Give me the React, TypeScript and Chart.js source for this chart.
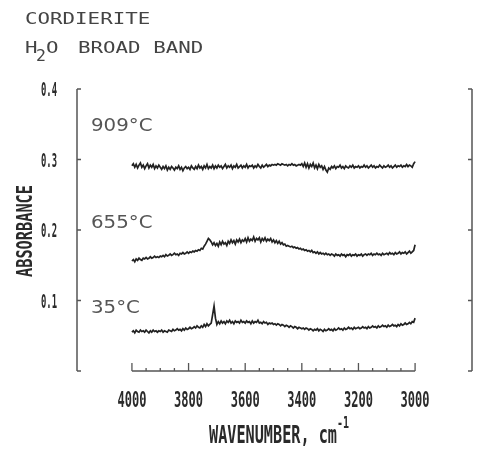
import React, { useEffect, useRef } from "react";
import { Chart, registerables } from "chart.js";

Chart.register(...registerables);

// Sampling grid of wavenumbers (cm^-1), 4000 -> 3000 every 5
const WAVENUMBERS: number[] = Array.from({ length: 201 }, (_, i) => 4000 - i * 5);

const ABS_909: number[] = [
  0.291, 0.294, 0.289, 0.293, 0.288, 0.292, 0.295, 0.289, 0.292, 0.287, 0.291, 0.294, 0.288, 0.292, 0.289, 0.293, 0.287, 0.291, 0.288, 0.292,
  0.289, 0.286, 0.290, 0.287, 0.291, 0.285, 0.289, 0.286, 0.290, 0.288, 0.285, 0.289, 0.287, 0.291, 0.286, 0.289, 0.284, 0.288, 0.290, 0.287,
  0.289, 0.286, 0.291, 0.288, 0.286, 0.290, 0.287, 0.292, 0.288, 0.290, 0.286, 0.291, 0.288, 0.293, 0.287, 0.290, 0.288, 0.292, 0.287, 0.291,
  0.288, 0.292, 0.289, 0.291, 0.287, 0.290, 0.293, 0.288, 0.291, 0.289, 0.292, 0.287, 0.291, 0.289, 0.293, 0.288, 0.290, 0.292, 0.288, 0.291,
  0.289, 0.293, 0.288, 0.291, 0.290, 0.292, 0.288, 0.291, 0.289, 0.293, 0.290, 0.288, 0.292, 0.289, 0.291, 0.293, 0.290, 0.292, 0.291, 0.293,
  0.292, 0.293, 0.292, 0.294, 0.293, 0.292, 0.294, 0.293, 0.292, 0.293, 0.291, 0.293, 0.292, 0.294, 0.292, 0.293, 0.291, 0.292, 0.293, 0.292,
  0.294, 0.290, 0.295, 0.289, 0.294, 0.288, 0.293, 0.290, 0.295, 0.288, 0.292, 0.287, 0.293, 0.289, 0.291, 0.286, 0.290, 0.285, 0.282, 0.288,
  0.286, 0.290, 0.288, 0.291, 0.287, 0.290, 0.289, 0.292, 0.288, 0.290, 0.287, 0.291, 0.289, 0.288, 0.291, 0.289, 0.292, 0.288, 0.290, 0.289,
  0.291, 0.288, 0.290, 0.289, 0.292, 0.289, 0.291, 0.288, 0.290, 0.292, 0.289, 0.291, 0.288, 0.290, 0.289, 0.292, 0.290, 0.288, 0.291, 0.289,
  0.290, 0.292, 0.289, 0.291, 0.288, 0.290, 0.292, 0.289, 0.291, 0.290, 0.292, 0.289, 0.291, 0.290, 0.293, 0.290, 0.292, 0.291, 0.289, 0.294,
  0.297,
];

const ABS_655: number[] = [
  0.156, 0.158, 0.155, 0.159, 0.157, 0.160, 0.158, 0.157, 0.160, 0.159, 0.161, 0.159, 0.160, 0.162, 0.160, 0.161, 0.163, 0.161, 0.162, 0.161,
  0.163, 0.162, 0.164, 0.162, 0.165, 0.163, 0.164, 0.166, 0.164, 0.165, 0.167, 0.165, 0.166, 0.164, 0.167, 0.166, 0.168, 0.166, 0.167, 0.169,
  0.167, 0.169, 0.168, 0.170, 0.169, 0.171, 0.170, 0.172, 0.171, 0.174, 0.173, 0.177, 0.180, 0.184, 0.188, 0.186, 0.183, 0.179, 0.182, 0.178,
  0.181, 0.177, 0.183, 0.179, 0.184, 0.180, 0.182, 0.178, 0.184, 0.181, 0.186, 0.182, 0.185, 0.180, 0.186, 0.183, 0.187, 0.182, 0.186, 0.184,
  0.188, 0.183, 0.189, 0.184, 0.187, 0.185, 0.190, 0.184, 0.188, 0.186, 0.189, 0.183, 0.188, 0.185, 0.189, 0.184, 0.187, 0.185, 0.188, 0.183,
  0.186, 0.182, 0.185, 0.181, 0.184, 0.180, 0.182, 0.179, 0.180, 0.177, 0.178, 0.177, 0.176, 0.177, 0.175, 0.176, 0.174, 0.175, 0.173, 0.174,
  0.172, 0.173, 0.171, 0.172, 0.170, 0.171, 0.169, 0.171, 0.168, 0.169, 0.167, 0.169, 0.166, 0.168, 0.166, 0.167, 0.165, 0.167, 0.165, 0.166,
  0.164, 0.166, 0.165, 0.163, 0.166, 0.164, 0.165, 0.163, 0.166, 0.164, 0.165, 0.162, 0.165, 0.164, 0.166, 0.163, 0.165, 0.164, 0.166, 0.163,
  0.165, 0.164, 0.166, 0.163, 0.165, 0.166, 0.164, 0.166, 0.165, 0.167, 0.164, 0.166, 0.165, 0.167, 0.165, 0.166, 0.164, 0.167, 0.165, 0.166,
  0.167, 0.165, 0.168, 0.166, 0.167, 0.165, 0.168, 0.166, 0.167, 0.169, 0.166, 0.168, 0.167, 0.169, 0.166, 0.168, 0.170, 0.167, 0.169, 0.171,
  0.179,
];

const ABS_35: number[] = [
  0.055, 0.057, 0.054, 0.058, 0.056, 0.055, 0.058, 0.056, 0.057, 0.055, 0.058, 0.056, 0.054, 0.057, 0.055, 0.058, 0.056, 0.057, 0.055, 0.057,
  0.056, 0.058, 0.055, 0.057, 0.056, 0.055, 0.058, 0.057, 0.056, 0.059, 0.057, 0.058, 0.060, 0.058, 0.059, 0.057, 0.060, 0.058, 0.061, 0.059,
  0.060, 0.062, 0.060, 0.061, 0.063, 0.061, 0.064, 0.062, 0.061, 0.064, 0.062, 0.066, 0.063, 0.067, 0.064, 0.066, 0.068, 0.080, 0.092, 0.075,
  0.066, 0.070, 0.067, 0.071, 0.068, 0.070, 0.067, 0.071, 0.069, 0.072, 0.068, 0.070, 0.067, 0.071, 0.069, 0.070, 0.068, 0.072, 0.069, 0.070,
  0.068, 0.071, 0.069, 0.070, 0.067, 0.071, 0.068, 0.070, 0.069, 0.072, 0.068, 0.069, 0.067, 0.070, 0.068, 0.069, 0.066, 0.068, 0.067, 0.068,
  0.066, 0.067, 0.065, 0.067, 0.066, 0.064, 0.066, 0.065, 0.063, 0.065, 0.064, 0.062, 0.064, 0.063, 0.061, 0.063, 0.062, 0.060, 0.062, 0.061,
  0.060, 0.061, 0.059, 0.061, 0.060, 0.058, 0.060, 0.059, 0.057, 0.059, 0.058, 0.060, 0.057, 0.059, 0.058, 0.056, 0.059, 0.057, 0.058, 0.060,
  0.058, 0.059, 0.057, 0.060, 0.058, 0.059, 0.061, 0.059, 0.060, 0.058, 0.061, 0.059, 0.060, 0.062, 0.060, 0.061, 0.059, 0.062, 0.060, 0.061,
  0.062, 0.060, 0.061, 0.063, 0.061, 0.062, 0.060, 0.063, 0.061, 0.062, 0.064, 0.062, 0.063, 0.061, 0.064, 0.062, 0.063, 0.065, 0.063, 0.064,
  0.062, 0.065, 0.063, 0.064, 0.066, 0.064, 0.065, 0.063, 0.066, 0.064, 0.067, 0.065, 0.066, 0.068, 0.066, 0.067, 0.069, 0.067, 0.070, 0.069,
  0.075,
];

const SERIES_LABELS = ["909°C", "655°C", "35°C"];
const LABEL_ANCHORS = [0.3404, 0.2028, 0.0823]; // absorbance at label baseline

const Y_TICKS = [0.4, 0.3, 0.2, 0.1];
const Y_TICK_LABELS = ["0.4", "0.3", "0.2", "0.1"];
const X_TICKS = [4000, 3800, 3600, 3400, 3200, 3000];
const X_TICK_LABELS = ["4000", "3800", "3600", "3400", "3200", "3000"];

const TITLE_1 = "CORDIERITE";
const X_TITLE = "WAVENUMBER, cm";
const Y_TITLE = "ABSORBANCE";

function textScaled(
  ctx: CanvasRenderingContext2D,
  text: string,
  x: number,
  y: number,
  font: string,
  opts: { sx?: number; width?: number; align?: "left" | "center" | "right"; color?: string }
) {
  ctx.save();
  ctx.font = font;
  ctx.fillStyle = opts.color || "#333";
  ctx.textAlign = "left";
  ctx.textBaseline = "alphabetic";
  const m = ctx.measureText(text).width;
  const sx = opts.width ? opts.width / m : opts.sx || 1;
  const w = m * sx;
  const x0 = opts.align === "center" ? x - w / 2 : opts.align === "right" ? x - w : x;
  ctx.translate(x0, y);
  ctx.scale(sx, 1);
  ctx.fillText(text, 0, 0);
  ctx.restore();
}

const decorPlugin = {
  id: "decor",
  beforeDraw(chart: any) {
    const ctx = chart.ctx as CanvasRenderingContext2D;
    ctx.save();
    ctx.fillStyle = "#ffffff";
    ctx.fillRect(0, 0, chart.width, chart.height);
    ctx.restore();
  },
  afterDraw(chart: any) {
    const ctx = chart.ctx as CanvasRenderingContext2D;
    const xs = chart.scales.x;
    const ys = chart.scales.y;
    const { left, right } = chart.chartArea;
    const yTop = ys.getPixelForValue(0.4);
    const yBot = ys.getPixelForValue(0);
    const axisColor = "#555";

    ctx.save();
    ctx.strokeStyle = axisColor;
    ctx.lineWidth = 1.5;
    ctx.lineCap = "butt";
    ctx.beginPath();
    ctx.moveTo(left, yTop);
    ctx.lineTo(left, yBot);
    ctx.stroke();
    ctx.beginPath();
    ctx.moveTo(right, yTop);
    ctx.lineTo(right, yBot);
    ctx.stroke();
    ctx.lineWidth = 1.3;
    [0.4, 0.3, 0.2, 0.1, 0].forEach((v) => {
      const py = ys.getPixelForValue(v);
      ctx.beginPath();
      ctx.moveTo(left, py);
      ctx.lineTo(left + 4, py);
      ctx.moveTo(right, py);
      ctx.lineTo(right - 4, py);
      ctx.stroke();
    });
    const x0 = xs.getPixelForValue(4000);
    const x1 = xs.getPixelForValue(3000);
    ctx.lineWidth = 1.5;
    ctx.beginPath();
    ctx.moveTo(x0, yBot);
    ctx.lineTo(x1, yBot);
    ctx.stroke();
    ctx.lineWidth = 1.3;
    for (let w = 4000; w >= 3000; w -= 50) {
      const px = xs.getPixelForValue(w);
      const major = w % 200 === 0;
      ctx.beginPath();
      ctx.moveTo(px, yBot);
      ctx.lineTo(px, yBot - (major ? 8 : 3));
      ctx.stroke();
    }
    ctx.restore();

    Y_TICKS.forEach((v, i) => {
      const py = ys.getPixelForValue(v);
      textScaled(ctx, Y_TICK_LABELS[i], 57, py + 7, "bold 20px 'DejaVu Sans Mono'", {
        width: 16,
        align: "right",
        color: "#2a2a2a",
      });
    });
    X_TICKS.forEach((v, i) => {
      const px = xs.getPixelForValue(v);
      textScaled(ctx, X_TICK_LABELS[i], px, 407, "bold 21px 'DejaVu Sans Mono'", {
        width: 29,
        align: "center",
        color: "#2a2a2a",
      });
    });
    textScaled(ctx, X_TITLE, 209, 443, "bold 24px 'DejaVu Sans Mono'", { width: 128, color: "#2a2a2a" });
    textScaled(ctx, "-1", 337, 428, "bold 15px 'DejaVu Sans Mono'", { width: 12, color: "#2a2a2a" });
    ctx.save();
    ctx.translate(32, 231);
    ctx.rotate(-Math.PI / 2);
    textScaled(ctx, Y_TITLE, 0, 0, "bold 21px 'DejaVu Sans Mono'", { width: 92, align: "center", color: "#2a2a2a" });
    ctx.restore();

    const tf = "16px 'DejaVu Sans Mono'";
    const tc = "#444";
    textScaled(ctx, TITLE_1, 25, 24, tf, { sx: 1.3, color: tc });
    textScaled(ctx, "H", 25, 53, tf, { sx: 1.3, color: tc });
    textScaled(ctx, "2", 36, 61, "15px 'DejaVu Sans Mono'", { sx: 1.1, color: tc });
    textScaled(ctx, "O", 46, 53, tf, { sx: 1.3, color: tc });
    textScaled(ctx, "BROAD BAND", 78, 53, tf, { sx: 1.3, color: tc });

    SERIES_LABELS.forEach((t, i) => {
      const py = ys.getPixelForValue(LABEL_ANCHORS[i]);
      textScaled(ctx, t, left + 14, py, "18px 'DejaVu Sans'", { sx: 1.1, color: "#555" });
    });
  },
};

export default function App() {
  const ref = useRef<HTMLCanvasElement | null>(null);
  useEffect(() => {
    if (!ref.current) return;
    const mk = (vals: number[]) => WAVENUMBERS.map((w, i) => ({ x: w, y: vals[i] }));
    const ds = (vals: number[]) => ({
      data: mk(vals),
      borderColor: "#222",
      borderWidth: 1.7,
      pointRadius: 0,
      tension: 0,
      fill: false,
    });
    const chart = new Chart(ref.current, {
      type: "line",
      data: { datasets: [ds(ABS_909), ds(ABS_655), ds(ABS_35)] },
      options: {
        animation: false,
        responsive: false,
        events: [],
        layout: { padding: { left: 77, right: 5, top: 89, bottom: 79 } },
        plugins: { legend: { display: false }, tooltip: { enabled: false }, title: { display: false } },
        scales: {
          x: { type: "linear", reverse: true, min: 2799, max: 4194, display: false },
          y: { type: "linear", min: 0, max: 0.4, display: false },
        },
      },
      plugins: [decorPlugin],
    });
    return () => chart.destroy();
  }, []);
  return (
    <div style={{ position: "absolute", left: 0, top: 0, width: 477, height: 450, background: "#fff" }}>
      <canvas ref={ref} width={477} height={450} style={{ display: "block" }} />
    </div>
  );
}
